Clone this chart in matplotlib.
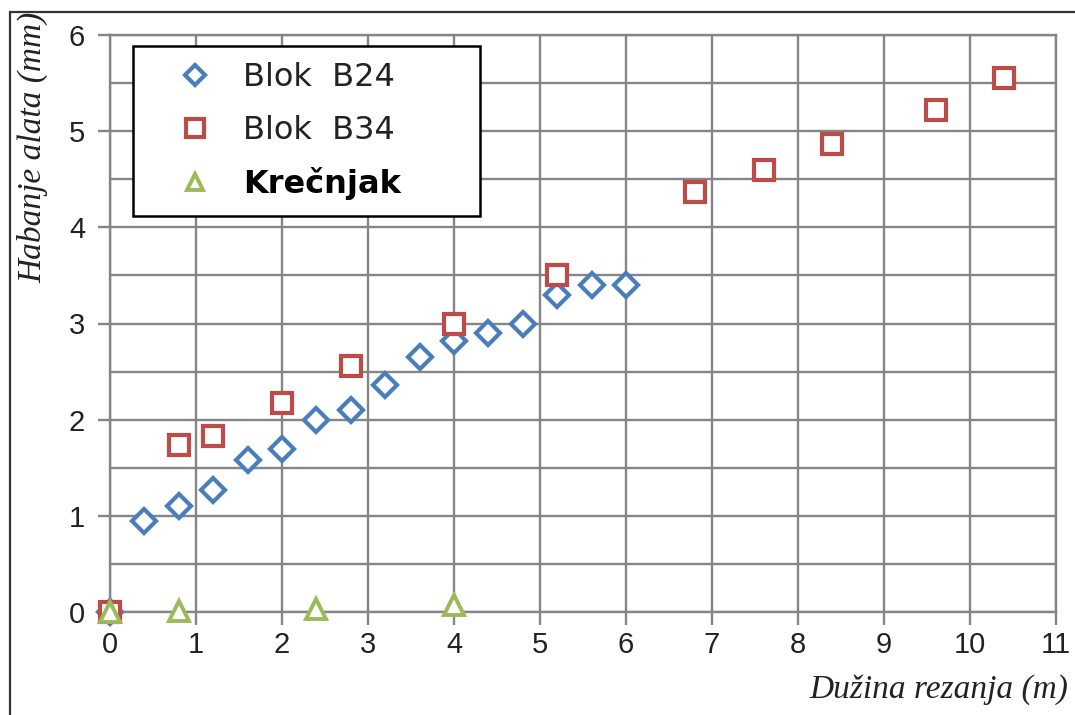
import matplotlib
matplotlib.use("Agg")
import matplotlib.pyplot as plt
from matplotlib.patches import Rectangle
from matplotlib.ticker import MultipleLocator

# Habanje alata vs. duzina rezanja
b24_x = [0, 0.4, 0.8, 1.2, 1.6, 2.0, 2.4, 2.8, 3.2, 3.6, 4.0, 4.4, 4.8, 5.2, 5.6, 6.0]
b24_y = [0, 0.95, 1.1, 1.27, 1.58, 1.7, 2.0, 2.1, 2.36, 2.65, 2.82, 2.9, 3.0, 3.3, 3.4, 3.4]

b34_x = [0, 0.8, 1.2, 2.0, 2.8, 4.0, 5.2, 6.8, 7.6, 8.4, 9.6, 10.4]
b34_y = [0, 1.74, 1.83, 2.17, 2.56, 3.0, 3.5, 4.37, 4.6, 4.87, 5.22, 5.55]

kr_x = [0, 0.8, 2.4, 4.0]
kr_y = [0, 0.01, 0.03, 0.07]

labels = ["Blok  B24", "Blok  B34", "Krečnjak"]

W, H = 1075, 715
fig = plt.figure(figsize=(W / 100, H / 100), dpi=100)
ax = fig.add_axes([110 / W, 1 - 612 / H, 946 / W, 577 / H])

grid_c = "#858585"
ax.plot(b24_x, b24_y, "D", ms=12.5, mfc="white", mec="#4a7ebb", mew=3.0,
        ls="none", clip_on=False, label=labels[0], zorder=3)
ax.plot(b34_x, b34_y, "s", ms=15, mfc="white", mec="#be4b48", mew=3.0,
        ls="none", clip_on=False, label=labels[1], zorder=3)
ax.plot(kr_x, kr_y, "^", ms=14, mfc="white", mec="#9bbb59", mew=2.8,
        ls="none", clip_on=False, label=labels[2], zorder=4)

ax.set_xlim(0, 11)
ax.set_ylim(0, 6)
ax.xaxis.set_major_locator(MultipleLocator(1))
ax.yaxis.set_major_locator(MultipleLocator(1))
ax.yaxis.set_minor_locator(MultipleLocator(0.5))
ax.grid(which="major", color=grid_c, lw=1.7)
ax.grid(which="minor", axis="y", color=grid_c, lw=1.7)
ax.set_axisbelow(True)
for s in ax.spines.values():
    s.set_color(grid_c)
    s.set_linewidth(1.7)
ax.tick_params(which="major", length=9, width=1.7, color=grid_c,
               labelsize=21, labelcolor="#222222")
ax.tick_params(axis="y", pad=9)
ax.tick_params(axis="x", pad=5)
ax.tick_params(which="minor", length=0)
for t in ax.get_xticklabels() + ax.get_yticklabels():
    t.set_family("Liberation Sans")

leg = ax.legend(loc="upper left",
                bbox_to_anchor=(23 / 946, 1 - 11 / 577, 347 / 946, 0.0),
                mode="expand", borderaxespad=0, fancybox=False,
                edgecolor="black", framealpha=1,
                prop={"family": "DejaVu Sans", "size": 23},
                handlelength=2.9, handletextpad=0.05, labelspacing=0.68,
                borderpad=0.5, markerscale=0.85)
leg.get_frame().set_linewidth(1.8)
for i, t in enumerate(leg.get_texts()):
    t.set_color("#222222" if i < 2 else "black")
    if i == 2:
        t.set_fontweight("bold")

fig.text(33 / W, 1 - 12 / H, "Habanje alata (mm)", rotation=90,
         ha="center", va="top", fontsize=24, style="italic",
         family="Liberation Serif", color="#222222")
fig.text(1068 / W, 1 - 690 / H, "Dužina rezanja (m)", ha="right",
         va="center", fontsize=24, style="italic",
         family="Liberation Serif", color="#222222")

fig.add_artist(Rectangle((10 / W, -0.1), 2, 1 - 12 / H + 0.1,
                         transform=fig.transFigure, fill=False,
                         ec="#333333", lw=1.6))

fig.savefig("out.png", dpi=100)
